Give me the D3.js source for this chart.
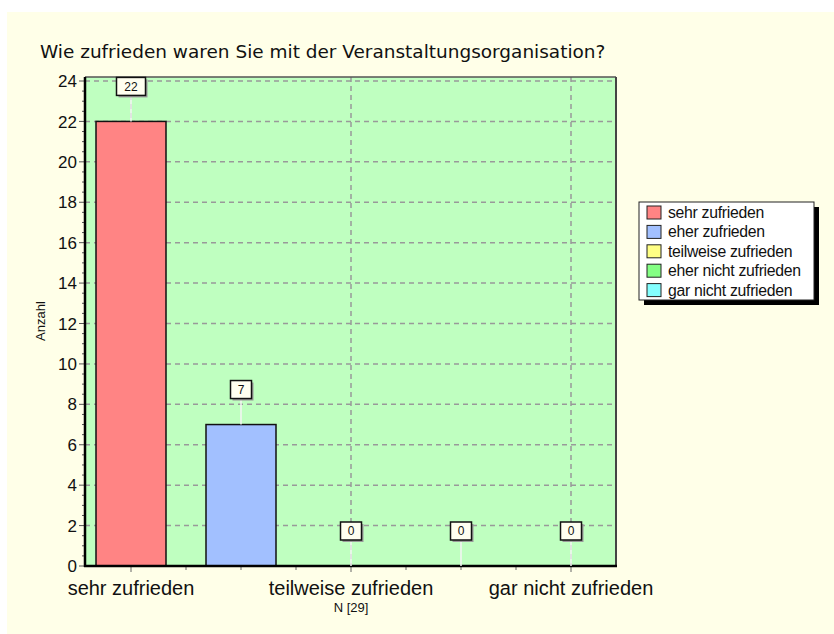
<!DOCTYPE html>
<html><head><meta charset="utf-8">
<script src="https://cdn.jsdelivr.net/npm/d3@7"></script>
<style>html,body{margin:0;padding:0;background:#fff;}svg{display:block;}</style>
</head><body>
<svg id="chart" width="834" height="634"></svg>
<script>
const categories = ["sehr zufrieden","eher zufrieden","teilweise zufrieden","eher nicht zufrieden","gar nicht zufrieden"];
const values = [22, 7, 0, 0, 0];
const colors = ["#ff8484","#a2c0ff","#ffff84","#84ff84","#84ffff"];
const yTicks = [0,2,4,6,8,10,12,14,16,18,20,22,24];
const labeledCats = ["sehr zufrieden","teilweise zufrieden","gar nicht zufrieden"];
const title = "Wie zufrieden waren Sie mit der Veranstaltungsorganisation?";
const yTitle = "Anzahl";
const footnote = "N [29]";

const svg = d3.select("#chart");
svg.append("rect").attr("x",7).attr("y",12).attr("width",827).attr("height",622).attr("fill","#ffffe8");

const plot = {left:85, right:616, top:77, bottom:566};
const x = d3.scaleBand().domain(categories).range([76,626]).padding(0);
const y = d3.scaleLinear().domain([0,24]).range([566,81]);

// title
const t = svg.append("text").attr("x",40).attr("y",58)
  .attr("font-family","Tahoma, 'DejaVu Sans', sans-serif").attr("font-size",16).attr("fill","#111").text(title);
const tl = t.node().getComputedTextLength();
t.attr("font-size", 16*566/tl);

// plot bg
svg.append("rect").attr("x",plot.left).attr("y",plot.top).attr("width",plot.right-plot.left).attr("height",plot.bottom-plot.top).attr("fill","#bfffc0");

// grid
const g = svg.append("g");
g.selectAll("line.hg").data(yTicks.filter(d=>d>0)).join("line")
  .attr("x1",plot.left).attr("x2",plot.right).attr("y1",d=>y(d)).attr("y2",d=>y(d))
  .attr("stroke","#999").attr("stroke-width",1.5).attr("stroke-dasharray","5,4");
g.selectAll("line.vg").data(labeledCats).join("line")
  .attr("x1",d=>x(d)+x.bandwidth()/2).attr("x2",d=>x(d)+x.bandwidth()/2)
  .attr("y1",plot.top).attr("y2",plot.bottom)
  .attr("stroke","#999").attr("stroke-width",1.5).attr("stroke-dasharray","5,4");

// bars
const bw = 70;
svg.selectAll("rect.bar").data(categories).join("rect")
  .attr("x",(d)=>x(d)+x.bandwidth()/2-bw/2).attr("width",bw)
  .attr("y",(d,i)=>y(values[i])).attr("height",(d,i)=>y(0)-y(values[i]))
  .attr("fill",(d,i)=>colors[i]).attr("stroke","#111").attr("stroke-width",1.5)
  .style("display",(d,i)=>values[i]>0?null:"none");

// frame
svg.append("line").attr("x1",plot.left).attr("x2",plot.right).attr("y1",plot.top).attr("y2",plot.top).attr("stroke","#555").attr("stroke-width",1.5);
svg.append("line").attr("x1",plot.right).attr("x2",plot.right).attr("y1",plot.top).attr("y2",plot.bottom).attr("stroke","#444").attr("stroke-width",2);

// y axis
const yMinor = d3.range(0,24.01,0.5);
svg.selectAll("line.ymin").data(yMinor).join("line")
  .attr("x1",d=>d%2===0?plot.left-6:plot.left-3).attr("x2",plot.left)
  .attr("y1",d=>y(d)).attr("y2",d=>y(d)).attr("stroke","#555").attr("stroke-width",1);
svg.selectAll("text.yl").data(yTicks).join("text")
  .attr("x",77).attr("y",d=>y(d)).attr("dy","0.36em").attr("text-anchor","end")
  .attr("font-family","Arial, 'Liberation Sans', sans-serif").attr("font-size",17).attr("fill","#111").text(d=>d);
svg.append("line").attr("x1",plot.left).attr("x2",plot.left).attr("y1",plot.top).attr("y2",plot.bottom+1).attr("stroke","#000").attr("stroke-width",2.5);

// x axis
const xTicks = [];
categories.forEach(c=>{xTicks.push({v:x(c)+x.bandwidth()/2, major:labeledCats.includes(c)}); xTicks.push({v:x(c)+x.bandwidth(), major:false});});
svg.selectAll("line.xt").data(xTicks.filter(d=>d.v<plot.right)).join("line")
  .attr("x1",d=>d.v).attr("x2",d=>d.v).attr("y1",plot.bottom).attr("y2",d=>d.major?plot.bottom+6:plot.bottom+4)
  .attr("stroke","#666").attr("stroke-width",1);
svg.append("line").attr("x1",plot.left-1).attr("x2",plot.right+1).attr("y1",plot.bottom).attr("y2",plot.bottom).attr("stroke","#000").attr("stroke-width",2.5);
svg.selectAll("text.xl").data(labeledCats).join("text")
  .attr("x",d=>x(d)+x.bandwidth()/2).attr("y",595).attr("text-anchor","middle")
  .attr("font-family","Arial, 'Liberation Sans', sans-serif").attr("font-size",20).attr("fill","#111").text(d=>d);
svg.append("text").attr("x",x(categories[2])+x.bandwidth()/2).attr("y",612).attr("text-anchor","middle")
  .attr("font-family","Arial, 'Liberation Sans', sans-serif").attr("font-size",13).attr("fill","#111").text(footnote);
svg.append("text").attr("transform","translate(45,321) rotate(-90)").attr("text-anchor","middle")
  .attr("font-family","Arial, 'Liberation Sans', sans-serif").attr("font-size",13).attr("fill","#111").text(yTitle);

// value labels
const lab = svg.selectAll("g.vl").data(categories).join("g");
lab.each(function(d,i){
  const gg = d3.select(this);
  const cx = x(d)+x.bandwidth()/2;
  const top = y(values[i]);
  const bb = top-26;
  const w = String(values[i]).length>1?29:21, h=18;
  gg.append("line").attr("x1",cx).attr("x2",cx).attr("y1",bb).attr("y2",top).attr("stroke","#f4f4f4").attr("stroke-width",1.5);
  gg.append("rect").attr("x",cx-w/2+2).attr("y",bb-h+2).attr("width",w).attr("height",h).attr("fill","#9a9a9a");
  gg.append("rect").attr("x",cx-w/2).attr("y",bb-h).attr("width",w).attr("height",h).attr("fill","#fffff0").attr("stroke","#111").attr("stroke-width",1.5);
  gg.append("text").attr("x",cx).attr("y",bb-h/2).attr("dy","0.36em").attr("text-anchor","middle")
    .attr("font-family","Arial, 'Liberation Sans', sans-serif").attr("font-size",12).attr("fill","#111").text(values[i]);
});

// legend
const lg = svg.append("g").attr("transform","translate(639,202)");
lg.append("rect").attr("x",5).attr("y",5).attr("width",175).attr("height",98).attr("fill","#000");
lg.append("rect").attr("x",0).attr("y",0).attr("width",175).attr("height",98).attr("fill","#fff").attr("stroke","#222").attr("stroke-width",1);
const li = lg.selectAll("g.li").data(categories).join("g").attr("transform",(d,i)=>`translate(0,${i*19.4})`);
li.append("rect").attr("x",8).attr("y",4).attr("width",14).attr("height",13).attr("fill",(d,i)=>colors[i]).attr("stroke","#222").attr("stroke-width",1);
li.append("text").attr("x",29).attr("y",16).attr("font-family","Arial, 'Liberation Sans', sans-serif").attr("font-size",15.8).attr("letter-spacing",-0.3).attr("fill","#111").text(d=>d);
</script>
</body></html>
